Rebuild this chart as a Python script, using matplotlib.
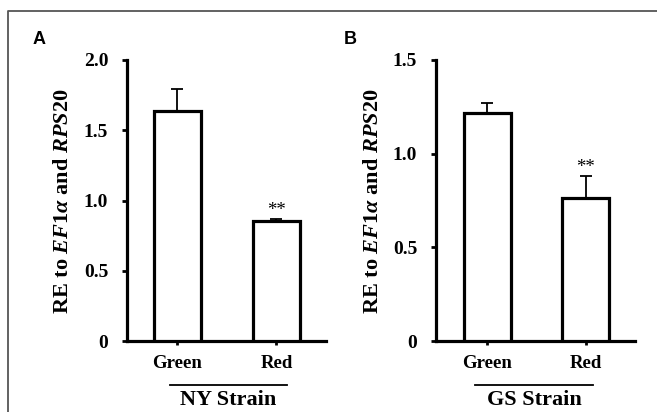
import matplotlib as mpl
mpl.use("Agg")
import matplotlib.pyplot as plt
import matplotlib.transforms as mtransforms
from matplotlib.lines import Line2D

# data
groups = ["Green", "Red"]
ny_vals = [1.637, 0.854]
ny_err = [0.155, 0.014]
gs_vals = [1.217, 0.765]
gs_err = [0.052, 0.118]
ny_ticks = [0, 0.5, 1.0, 1.5, 2.0]
ny_ticklabels = ["0", "0.5", "1.0", "1.5", "2.0"]
gs_ticks = [0, 0.5, 1.0, 1.5]
gs_ticklabels = ["0", "0.5", "1.0", "1.5"]
signif = ["", "**"]

mpl.rcParams['mathtext.fontset'] = 'custom'
mpl.rcParams['mathtext.rm'] = 'Liberation Serif:bold'
mpl.rcParams['mathtext.it'] = 'Liberation Serif:italic:bold'
mpl.rcParams['mathtext.bf'] = 'Liberation Serif:bold'

W, H = 657, 412
fig = plt.figure(figsize=(W / 100, H / 100), dpi=100)

serif = "Liberation Serif"
ylab = r'$\mathrm{RE\ to\ }\mathit{EF1α}\mathrm{\ and\ }\mathit{RPS20}$'


def px(x, y):
    return x / W, 1 - y / H


def panel(left_px, xlim, vals, errs, ticks, ticklabels, ymax, strain,
          line_x, lab_x, letter, letter_x):
    x0, y0 = px(left_px, 341)
    ax = fig.add_axes([x0, y0, 199 / W, 281 / H])
    xs = list(range(len(groups)))
    ax.bar(xs, vals, width=0.48, color="white", edgecolor="black",
           linewidth=2.3, zorder=3)
    ax.errorbar(xs, vals, yerr=[[0] * len(errs), errs], fmt="none",
                ecolor="black", elinewidth=1.3, capsize=4, capthick=1.3,
                zorder=2)
    ax.set_xlim(*xlim)
    ax.set_ylim(0, ymax)
    for s in ["top", "right"]:
        ax.spines[s].set_visible(False)
    for s in ["left", "bottom"]:
        ax.spines[s].set_linewidth(2.3)
    ax.set_yticks(ticks)
    ax.set_yticklabels(ticklabels, fontfamily=serif, fontweight="bold",
                       fontsize=14)
    ax.tick_params(axis="y", direction="out", length=3.5, width=2, pad=10)
    ax.set_xticks(xs)
    ax.set_xticklabels(groups, fontfamily=serif, fontweight="bold",
                       fontsize=13.5)
    ax.tick_params(axis="x", direction="out", length=3, width=2, pad=7)
    for x, v, e, s in zip(xs, vals, errs, signif):
        if s:
            ax.annotate(s, (x, v + e), xytext=(0, 0), textcoords="offset points",
                        ha="center", va="bottom", fontfamily=serif,
                        fontsize=13.5)
    tr = mtransforms.blended_transform_factory(ax.transData, ax.transAxes)
    ax.plot(line_x, [-0.1566, -0.1566], color="black", lw=1.3,
            transform=tr, clip_on=False)
    ax.text(sum(line_x) / 2, -0.246, strain, transform=tr, ha="center",
            va="bottom", fontfamily=serif, fontweight="bold", fontsize=16)
    fig.text(*px(lab_x, 201), ylab, rotation=90, ha="center", va="center",
             fontsize=16)
    fig.text(*px(letter_x, 39), letter, ha="center", va="center",
             fontfamily="Liberation Sans", fontweight="bold", fontsize=13)
    return ax


panel(127, (-0.51, 1.5), ny_vals, ny_err, ny_ticks, ny_ticklabels, 2.0,
      "NY Strain", [-0.076, 1.106], 62, "A", 39)
panel(436, (-0.52, 1.5), gs_vals, gs_err, gs_ticks, gs_ticklabels, 1.5,
      "GS Strain", [-0.12, 1.076], 372, "B", 350)

# outer frame (top and left edges)
fig.add_artist(Line2D([8 / W, 8 / W, 1], [0, 1 - 10.5 / H, 1 - 10.5 / H],
                      color="#555555", lw=1.3, transform=fig.transFigure))

fig.savefig("out.png", dpi=100)
